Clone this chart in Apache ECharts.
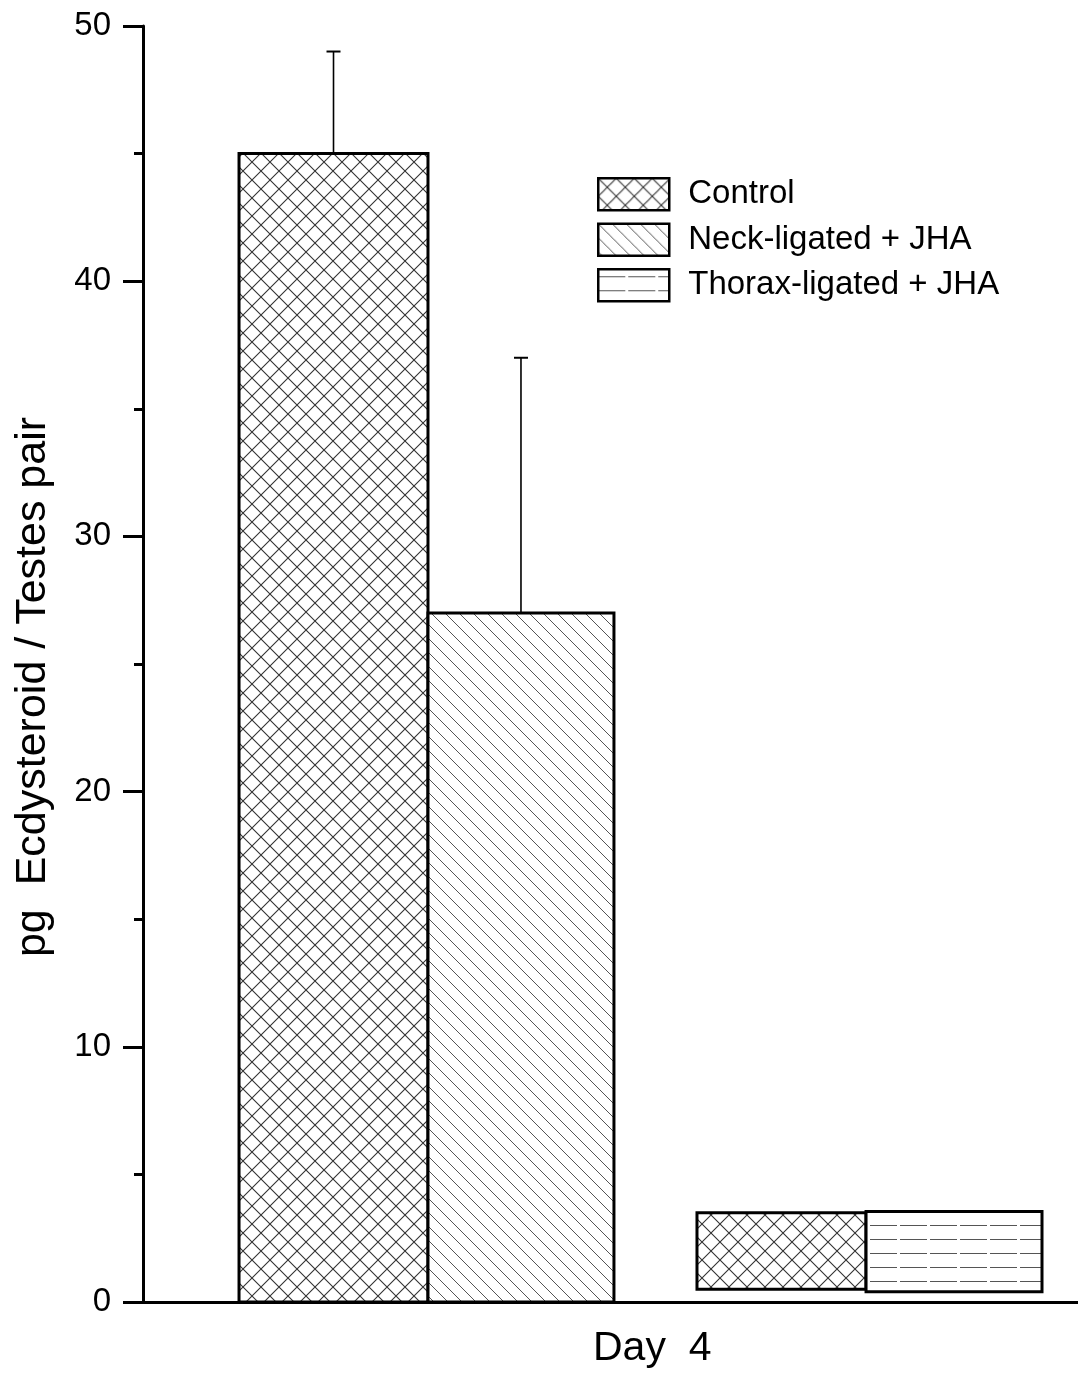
<!DOCTYPE html>
<html>
<head>
<meta charset="utf-8">
<script src="https://cdn.jsdelivr.net/npm/echarts@6/dist/echarts.min.js"></script>
<style>
html,body{margin:0;padding:0;background:#fff;}
#chart{width:1078px;height:1373px;}
</style>
</head>
<body>
<div id="chart"></div>
<script>
// ---- data ----
const seriesNames = ['Control', 'Neck-ligated + JHA', 'Thorax-ligated + JHA'];
const barSeriesOf = [0, 1, 0, 2];           // which series each bar belongs to
const barTop = [45, 27, 3.5, 3.55];          // bar upper values
const barBase = [0, 0, 0.5, 0.4];            // bar lower values
const errUpper = [49, 37, null, null];       // upper end of error bars
const yTicks = [0, 10, 20, 30, 40, 50];
const xLabel = 'Day  4';
const yLabel = 'pg  Ecdysteroid / Testes pair';

// ---- layout (x-axis units 0..100) ----
const barSlots = [[10.27, 30.48], [30.48, 50.37], [59.25, 77.33], [77.33, 96.15]];

const FONT = '"Liberation Sans", Arial, sans-serif';

function makeTile(kind) {
  const c = document.createElement('canvas');
  if (kind === 'cross') {
    const s = 18; c.width = s; c.height = s;
    const g = c.getContext('2d');
    g.fillStyle = '#fff'; g.fillRect(0, 0, s, s);
    g.strokeStyle = '#333'; g.lineWidth = 1.1;
    g.beginPath();
    g.moveTo(-1, -1); g.lineTo(s + 1, s + 1);
    g.moveTo(-1, s + 1); g.lineTo(s + 1, -1);
    g.stroke();
  } else if (kind === 'diag') {
    const s = 14; c.width = s; c.height = s;
    const g = c.getContext('2d');
    g.fillStyle = '#fff'; g.fillRect(0, 0, s, s);
    g.strokeStyle = '#555'; g.lineWidth = 1;
    g.beginPath();
    g.moveTo(-1, -1); g.lineTo(s + 1, s + 1);
    g.moveTo(-1 - s, -1); g.lineTo(1, s + 1);
    g.moveTo(s - 1, -1); g.lineTo(2 * s + 1, s + 1);
    g.stroke();
  } else {
    const s = 14; c.width = 30; c.height = s;
    const g = c.getContext('2d');
    g.fillStyle = '#fff'; g.fillRect(0, 0, 30, s);
    g.strokeStyle = '#555'; g.lineWidth = 1;
    g.beginPath();
    g.moveTo(0, 7.5); g.lineTo(27, 7.5);
    g.stroke();
  }
  return c;
}
const patterns = [
  { image: makeTile('cross'), repeat: 'repeat' },
  { image: makeTile('diag'), repeat: 'repeat' },
  { image: makeTile('hline'), repeat: 'repeat' }
];

const series = seriesNames.map((name, si) => {
  const data = [];
  barTop.forEach((t, i) => {
    if (barSeriesOf[i] === si) data.push([barSlots[i][0], barSlots[i][1], barBase[i], t]);
  });
  return {
    name: name,
    type: 'custom',
    itemStyle: { color: patterns[si], borderColor: '#000', borderWidth: 3 },
    encode: { x: [0, 1], y: [2, 3] },
    data: data,
    renderItem: function (params, api) {
      const p0 = api.coord([api.value(0), api.value(3)]);
      const p1 = api.coord([api.value(1), api.value(2)]);
      return {
        type: 'rect',
        shape: { x: p0[0], y: p0[1], width: p1[0] - p0[0], height: p1[1] - p0[1] },
        style: { fill: patterns[si], stroke: '#000', lineWidth: 3 }
      };
    }
  };
});

const errData = [];
barTop.forEach((t, i) => {
  if (errUpper[i] != null) errData.push([(barSlots[i][0] + barSlots[i][1]) / 2, t, errUpper[i]]);
});
series.push({
  name: 'err',
  type: 'custom',
  z: 5,
  encode: { x: 0, y: [1, 2] },
  data: errData,
  renderItem: function (params, api) {
    const a = api.coord([api.value(0), api.value(1)]);
    const b = api.coord([api.value(0), api.value(2)]);
    return {
      type: 'group',
      children: [
        { type: 'line', shape: { x1: a[0], y1: a[1], x2: b[0], y2: b[1] }, style: { stroke: '#000', lineWidth: 1.6 } },
        { type: 'line', shape: { x1: b[0] - 7, y1: b[1], x2: b[0] + 7, y2: b[1] }, style: { stroke: '#000', lineWidth: 2 } }
      ]
    };
  }
});

const chart = echarts.init(document.getElementById('chart'), null, { renderer: 'canvas' });
chart.setOption({
  backgroundColor: '#fff',
  animation: false,
  grid: { left: 143, right: 0, top: 26, bottom: 71 },
  legend: {
    orient: 'vertical',
    left: 597,
    top: 177,
    itemWidth: 71,
    itemHeight: 32,
    itemGap: 11,
    padding: 0,
    textStyle: { fontSize: 33, color: '#000', fontFamily: FONT, padding: [0, 0, 0, 14] },
    data: seriesNames.map((n, i) => ({
      name: n, icon: 'rect',
      itemStyle: { color: patterns[i], borderColor: '#000', borderWidth: 2.5 }
    }))
  },
  xAxis: {
    type: 'value', min: 0, max: 100,
    axisLine: { show: true, onZero: false, lineStyle: { color: '#000', width: 3 } },
    axisTick: { show: false }, axisLabel: { show: false }, splitLine: { show: false }
  },
  yAxis: {
    type: 'value', min: yTicks[0], max: yTicks[yTicks.length - 1], interval: 10,
    name: yLabel, nameLocation: 'middle', nameGap: 88,
    nameTextStyle: { fontSize: 43, color: '#000', fontFamily: FONT, padding: [0, 46, 0, 0] },
    axisLine: { show: true, onZero: false, lineStyle: { color: '#000', width: 3 } },
    axisTick: { show: true, inside: false, length: 20, lineStyle: { color: '#000', width: 3 } },
    minorTick: { show: true, splitNumber: 2, length: 9, lineStyle: { color: '#000', width: 3 } },
    axisLabel: { fontSize: 33, color: '#000', fontFamily: FONT, margin: 32 },
    splitLine: { show: false }, minorSplitLine: { show: false }
  },
  graphic: [{
    type: 'text', left: 593, top: 1328,
    style: { text: xLabel, fontSize: 41, fill: '#000', fontFamily: FONT }
  }],
  series: series
});
</script>
</body>
</html>
